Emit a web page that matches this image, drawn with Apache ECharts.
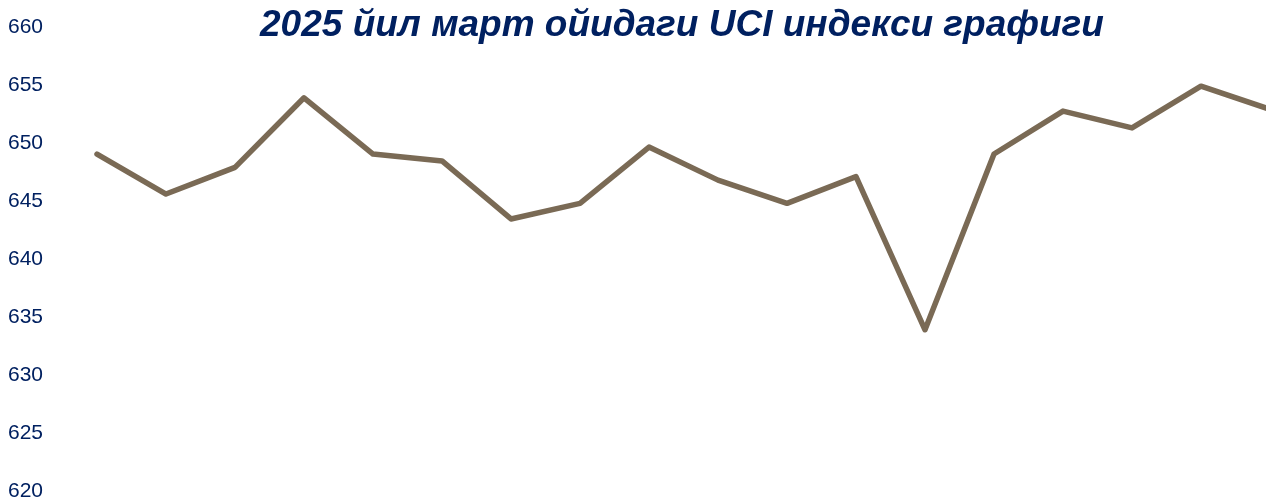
<!DOCTYPE html>
<html>
<head>
<meta charset="utf-8">
<script src="https://cdn.jsdelivr.net/npm/echarts@6/dist/echarts.min.js"></script>
<style>
html,body{margin:0;padding:0;background:#fff;}
#chart{width:1266px;height:502px;}
</style>
</head>
<body>
<div id="chart"></div>
<script>
const titleText = '2025 йил март ойидаги UCI индекси графиги';
const categories = ['1','2','3','4','5','6','7','8','9','10','11','12','13','14','15','16','17','18'];
const uciValues = [649.05, 645.6, 647.9, 653.9, 649.05, 648.45, 643.45, 644.8, 649.65, 646.8, 644.8, 647.1, 633.9, 649.05, 652.75, 651.3, 654.9, 652.9];
const yMin = 620, yMax = 660, yStep = 5;

const chart = echarts.init(document.getElementById('chart'));
chart.setOption({
  animation: false,
  backgroundColor: '#ffffff',
  title: {
    text: titleText,
    left: 677,
    textAlign: 'center',
    top: 2,
    textStyle: {
      fontFamily: '"Liberation Sans", Arial, sans-serif',
      fontSize: 37,
      fontWeight: 'bold',
      fontStyle: 'italic',
      color: '#002060'
    }
  },
  grid: {
    left: 62.5,
    right: -38.5,
    top: 27,
    bottom: 11,
    containLabel: false,
    outerBoundsMode: 'none'
  },
  xAxis: {
    type: 'category',
    data: categories,
    boundaryGap: true,
    show: false
  },
  yAxis: {
    type: 'value',
    min: yMin,
    max: yMax,
    interval: yStep,
    axisLine: {show: false},
    axisTick: {show: false},
    splitLine: {show: false},
    axisLabel: {
      align: 'left',
      margin: 54.5,
      fontFamily: '"Liberation Sans Narrow", "Arial Narrow", "Liberation Sans", sans-serif',
      fontSize: 21,
      color: '#002060'
    }
  },
  series: [{
    type: 'line',
    data: uciValues,
    symbol: 'none',
    clip: false,
    lineStyle: {color: '#7a6a55', width: 5.5, cap: 'round', join: 'round'}
  }]
});
</script>
</body>
</html>
